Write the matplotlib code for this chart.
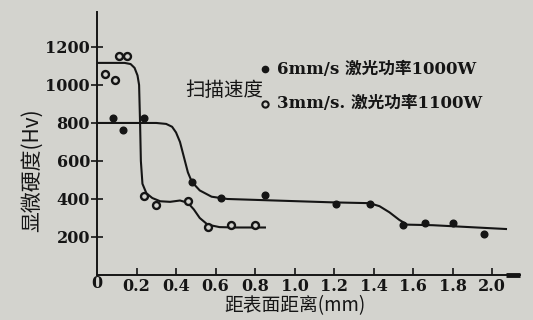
import numpy as np
import matplotlib.pyplot as plt

plt.rcParams['font.family'] = ['Noto Sans CJK SC', 'DejaVu Sans']

# measured points, 6mm/s (filled)
x_fast = [0.08, 0.13, 0.24, 0.48, 0.63, 0.85, 1.21, 1.38, 1.55, 1.66, 1.80, 1.96]
y_fast = [826, 763, 826, 489, 405, 421, 374, 374, 263, 274, 274, 216]

# measured points, 3mm/s (open)
x_slow = [0.04, 0.09, 0.11, 0.15, 0.24, 0.30, 0.46, 0.56, 0.68, 0.80]
y_slow = [1058, 1026, 1153, 1153, 416, 368, 389, 253, 263, 263]

# hand drawn fit lines
fit_fast_x = [0, 0.30, 0.35, 0.38, 0.40, 0.42, 0.44, 0.46, 0.48, 0.52, 0.58, 0.66,
              0.9, 1.2, 1.38, 1.43, 1.48, 1.53, 1.57, 1.7, 2.07]
fit_fast_y = [800, 800, 795, 780, 750, 700, 620, 540, 490, 445, 412, 400,
              392, 382, 378, 362, 330, 290, 265, 262, 242]
fit_slow_x = [0, 0.14, 0.17, 0.19, 0.205, 0.213, 0.218, 0.222, 0.23, 0.25, 0.28,
              0.32, 0.37, 0.42, 0.46, 0.49, 0.52, 0.56, 0.62, 0.7, 0.85]
fit_slow_y = [1116, 1116, 1110, 1090, 1050, 1000, 800, 600, 480, 430, 405,
              388, 385, 392, 380, 345, 300, 265, 252, 250, 250]

xticks = [0.2, 0.4, 0.6, 0.8, 1.0, 1.2, 1.4, 1.6, 1.8, 2.0]
yticks = [200, 400, 600, 800, 1000, 1200]

bg = '#d3d3ce'
ink = '#151515'
num_font = dict(family='DejaVu Serif', weight='bold', size=11.5)

fig = plt.figure(figsize=(5.33, 3.2), dpi=100, facecolor=bg)
ax = fig.add_axes([0.182, 0.1406, 0.794, 0.822], facecolor=bg)

ax.plot(fit_slow_x, fit_slow_y, color=ink, lw=1.5)
ax.plot(fit_fast_x, fit_fast_y, color=ink, lw=1.5)
ax.plot(x_fast, y_fast, 'o', color=ink, ms=4.8)
ax.plot(x_slow, y_slow, 'o', mfc=bg, mec=ink, mew=1.7, ms=5)

ax.set_xlim(0, 2.142)
ax.set_ylim(0, 1384)
for s in ['top', 'right']:
    ax.spines[s].set_visible(False)
for s in ['left', 'bottom']:
    ax.spines[s].set_linewidth(1.4)
    ax.spines[s].set_color(ink)

# thick end of x axis
ax.plot([2.07, 2.142], [0, 0], color=ink, lw=3.5, clip_on=False, solid_capstyle='butt')

ax.set_xticks(xticks)
ax.set_xticklabels(['%.1f' % v for v in xticks], fontdict=num_font)
ax.set_yticks(yticks)
ax.set_yticklabels([str(v) for v in yticks], fontdict=num_font)
ax.tick_params(axis='x', direction='in', length=5, width=1.2, colors=ink, pad=2)
ax.tick_params(axis='y', direction='inout', length=8, width=1.2, colors=ink, pad=1)
ax.text(0, -0.022, '0', transform=ax.get_yaxis_transform(), ha='center', va='top',
        fontdict=num_font, color=ink)

ax.set_xlabel('距表面距离(mm)', fontsize=13.5, color=ink, va='center')
ax.set_ylabel('显微硬度(Hv)', fontsize=15, color=ink)
ax.xaxis.set_label_coords(0.468, -0.118)
ax.yaxis.set_label_coords(-0.128, 0.40)

# legend
fig.text(185 / 533, 1 - 90 / 320, '扫描速度', fontsize=14, color=ink, va='center')
ax.plot([265 / 533], [1 - 69 / 320], 'o', color=ink, ms=4.5, transform=fig.transFigure, clip_on=False)
ax.plot([265 / 533], [1 - 104 / 320], 'o', mfc=bg, mec=ink, mew=1.5, ms=4.5,
        transform=fig.transFigure, clip_on=False)
leg_font = ['DejaVu Serif', 'Noto Sans CJK SC']
fig.text(277 / 533, 1 - 69 / 320, '6mm/s 激光功率1000W', fontsize=12, color=ink,
         va='center', family=leg_font, weight='bold')
fig.text(277 / 533, 1 - 103 / 320, '3mm/s. 激光功率1100W', fontsize=12, color=ink,
         va='center', family=leg_font, weight='bold')

fig.savefig('out.png', dpi=100, facecolor=bg)
